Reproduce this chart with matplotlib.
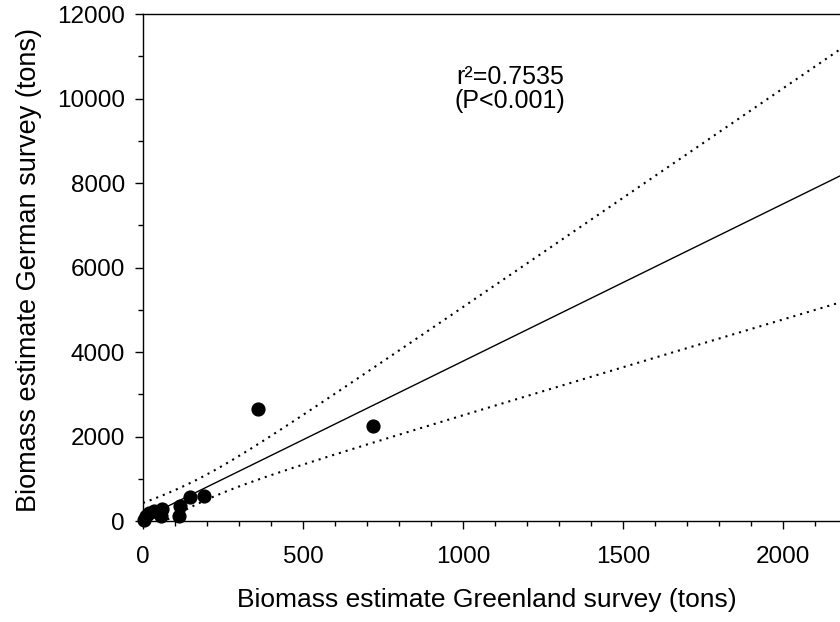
import numpy as np
import matplotlib
matplotlib.use("Agg")
matplotlib.rcParams.update({
    "font.family": "sans-serif",
    "font.sans-serif": ["Liberation Sans", "DejaVu Sans"],
})
import matplotlib.pyplot as plt
from matplotlib.ticker import MultipleLocator

# biomass estimates (tons)
greenland = [2, 8, 20, 35, 55, 60, 113, 115, 148, 191, 360, 718]
german = [30, 120, 200, 240, 130, 280, 110, 360, 560, 600, 2650, 2250]

x = np.array(greenland, dtype=float)
y = np.array(german, dtype=float)
n = len(x)

# linear fit + 95% confidence band of the regression line
slope, icpt = np.polyfit(x, y, 1)
resid = y - (slope * x + icpt)
s = np.sqrt(np.sum(resid ** 2) / (n - 2))
sxx = np.sum((x - x.mean()) ** 2)
t95 = 2.228  # t(0.975, df=10)
xs = np.linspace(0, 2300, 300)
fit = slope * xs + icpt
hw = t95 * s * np.sqrt(1.0 / n + (xs - x.mean()) ** 2 / sxx)

fig = plt.figure(figsize=(8.4, 6.22), dpi=100)
ax = fig.add_axes([143 / 840, 101 / 622, 1 - 143 / 840, 507 / 622])

ax.plot(xs, fit, color="black", lw=1.0)
ax.plot(xs, fit + hw, color="black", lw=1.5, linestyle=(0, (1, 2.4)))
ax.plot(xs, fit - hw, color="black", lw=1.5, linestyle=(0, (1, 2.4)))
ax.scatter(x, y, s=85, color="black", zorder=3, clip_on=False)

ax.set_xlim(0, 2178)
ax.set_ylim(0, 12000)
ax.xaxis.set_major_locator(MultipleLocator(500))
ax.xaxis.set_minor_locator(MultipleLocator(100))
ax.yaxis.set_major_locator(MultipleLocator(2000))
ax.yaxis.set_minor_locator(MultipleLocator(1000))
ax.tick_params(which="major", direction="out", length=6, width=1.0,
               labelsize=17.5)
ax.tick_params(axis="x", which="major", pad=12)
ax.tick_params(axis="y", which="major", pad=7)
ax.tick_params(which="minor", direction="out", length=3.5, width=1.0)
ax.spines["right"].set_visible(False)
for sp in ("left", "bottom", "top"):
    ax.spines[sp].set_linewidth(1.0)

ax.set_xlabel("Biomass estimate Greenland survey (tons)", fontsize=19, va="center")
ax.set_ylabel("Biomass estimate German survey (tons)", fontsize=19.5,
              va="center", ha="center")
ax.xaxis.set_label_coords((487 - 143) / 697, (521 - 600) / 507)
ax.yaxis.set_label_coords((29 - 143) / 697, (521 - 270) / 507)

ax.text(1147, 10230, "r\u00b2=0.7535\n(P<0.001)", ha="center", va="center",
        fontsize=18, linespacing=1.0)

fig.savefig("out.png", dpi=100)
